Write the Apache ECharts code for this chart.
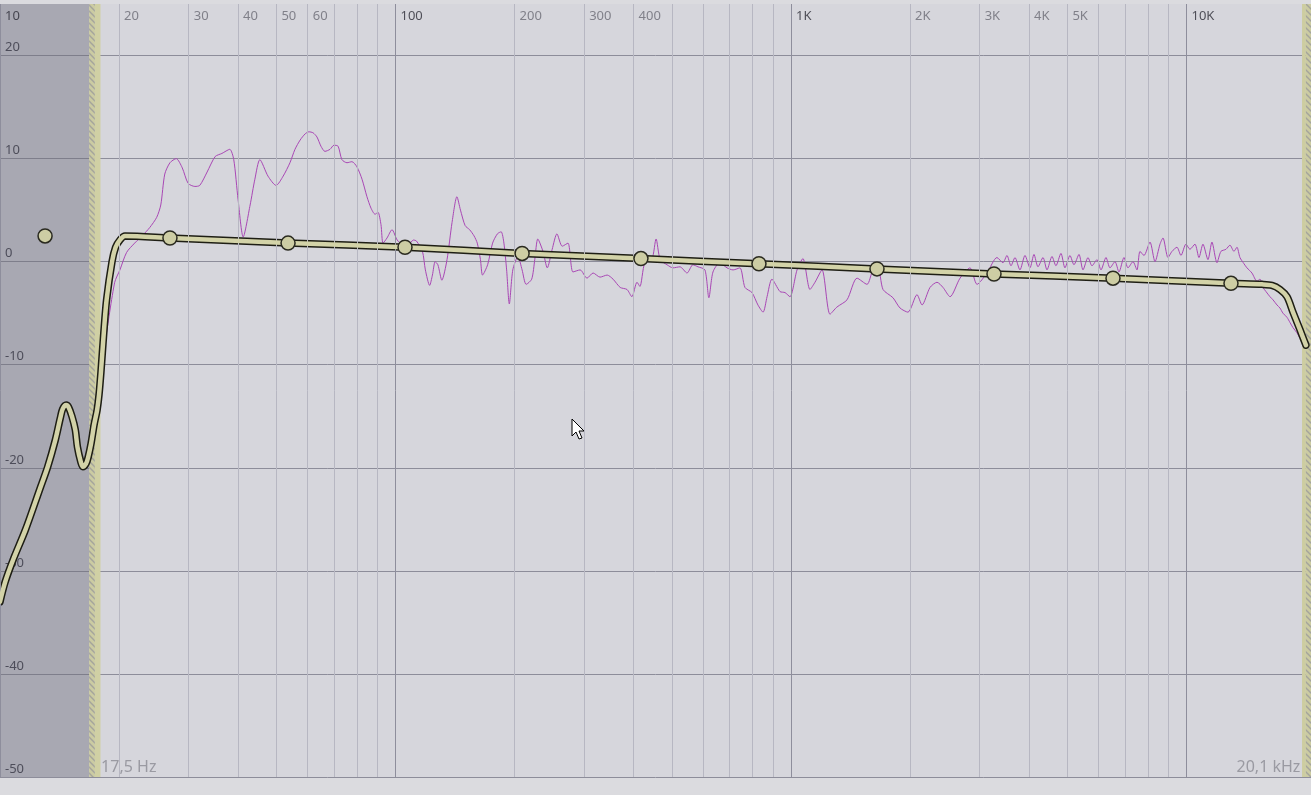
<!DOCTYPE html>
<html><head><meta charset="utf-8">
<script src="https://cdn.jsdelivr.net/npm/echarts@6/dist/echarts.min.js"></script>
<style>html,body{margin:0;padding:0;background:#dbdbdf;overflow:hidden}#c{width:1311px;height:795px}</style>
</head><body><div id="c"></div>
<script>
// ---- data ----
const gridHz = [10,20,30,40,50,60,70,80,90,100,200,300,400,500,600,700,800,900,1000,2000,3000,4000,5000,6000,7000,8000,9000,10000];
const decadeHz = [10,100,1000,10000];
const xLabelHz = [10,20,30,40,50,60,100,200,300,400,1000,2000,3000,4000,5000,10000];
const xLabelText = ['10','20','30','40','50','60','100','200','300','400','1K','2K','3K','4K','5K','10K'];
const yLabelDb = [20,10,0,-10,-20,-30,-40,-50];
const lowCutHz = 17.5;
const highCutHz = 20100;

const eqFreqHz = [10.0,10.3,10.8,11.6,12.6,13.2,13.8,14.2,14.4,14.7,14.9,15.2,15.5,15.7,16.0,16.2,16.5,16.7,17.0,17.3,17.6,17.8,18.0,18.3,18.6,19.2,19.6,20.1,20.7,
  26.9,53.5,105.7,209,417.5,830,1650,3261,6520,12960,15520,16450,17237,17954,18593,19140,19590,20048];
const eqGainDb = [-33.0,-31.1,-28.9,-26.0,-22.1,-19.9,-17.3,-15.2,-14.3,-13.9,-14.1,-15.0,-16.3,-18.0,-19.4,-19.9,-19.6,-19.0,-17.6,-15.8,-14.4,-12.9,-10.7,-6.9,-3.7,0.0,1.4,2.1,2.5,
  2.3,1.8,1.4,0.8,0.3,-0.2,-0.7,-1.2,-1.6,-2.1,-2.2,-2.3,-2.7,-3.4,-4.9,-6.1,-7.1,-8.1];

const nodeFreqHz = [13.0,26.9,53.5,105.7,209,417.5,830,1650,3261,6520,12960];
const nodeGainDb = [2.5,2.3,1.8,1.4,0.8,0.3,-0.2,-0.7,-1.2,-1.6,-2.1];

const respFreqHz = [
18.6,19.5,20.1,20.9,21.9,23.0,23.9,24.9,25.5,26.1,
26.9,27.9,28.9,29.9,31.1,32.0,33.4,35.0,36.4,38.1,
39.0,40.0,41.2,42.9,44.1,45.4,47.6,49.9,52.0,54.1,
55.7,57.4,59.1,60.4,61.9,63.3,64.8,66.3,68.3,69.9,
71.6,73.2,75.4,77.6,79.9,82.3,84.7,86.7,88.8,90.3,
91.9,93.0,95.2,98.0,101,104,108,111,113,117,
119,122,124,126,128,131,135,139,143,146,
150,154,158,161,164,166,171,176,181,185,
188,191,194,198,204,209,214,221,225,229,
236,242,249,256,264,273,281,293,305,316,
329,343,355,370,385,396,408,415,427,445,
456,467,486,503,524,546,565,582,606,620,
635,661,689,714,743,765,797,825,850,870,
895,938,966,994,1036,1072,1117,1150,1198,1255,
1307,1386,1469,1557,1612,1660,1709,1811,1887,1976,
2083,2145,2247,2340,2423,2525,2676,2836,2954,3131,
3318,3436,3517,3600,3685,3793,3906,4021,4116,4213,
4338,4440,4571,4677,4816,4929,5075,5195,5349,5475,
5637,5770,5940,6080,6260,6407,6596,6751,6951,7115,
7325,7497,7629,7809,8087,8327,8572,8723,8981,9193,
9462,9685,9970,10205,10507,10755,11008,11334,11600,11943,
12224,12586,12882,13185,13418,13655,13977,14223,14642,15077,
15342,15613,15888,16262,16549,16938,17237,17541,17954,18271,
18593,19030,19364,19706,20048];
const respGainDb = [
-6.9,-2.0,-0.8,0.9,1.8,2.6,3.3,4.3,5.5,8.5,
9.6,10.0,9.1,7.6,7.3,7.4,8.7,10.2,10.5,10.9,
9.9,6.0,2.4,5.5,8.0,9.9,8.3,7.4,8.3,9.6,
10.9,11.8,12.4,12.6,12.5,12.1,11.2,10.7,10.9,11.3,
11.2,9.9,9.6,9.7,9.2,8.0,6.3,5.2,4.6,4.8,
3.6,1.8,2.3,3.1,2.1,1.7,1.7,2.1,2.0,1.0,
-0.8,-2.3,-1.3,0.0,-0.3,-1.8,0.2,3.8,6.3,5.0,
3.5,3.1,2.5,1.8,0.2,-1.3,-0.3,1.8,2.7,2.9,
1.8,-0.8,-4.1,-0.8,0.5,-0.8,-2.2,-1.7,0.2,2.2,
1.0,-0.6,1.2,2.7,1.5,1.8,-1.0,-0.8,-1.6,-1.1,
-1.5,-1.3,-1.7,-2.5,-2.7,-3.4,-2.0,-2.4,-0.1,0.2,
2.2,0.2,-0.3,-0.6,-0.5,-1.1,-0.3,-0.5,-0.8,-3.5,
-1.0,-0.1,-0.6,-0.8,-0.6,-2.5,-3.0,-4.2,-4.9,-3.4,
-1.7,-2.9,-3.0,-3.4,-0.8,0.3,-2.7,-2.0,-0.8,-5.1,
-4.4,-3.7,-1.6,-2.2,-0.8,-0.6,-2.7,-3.5,-4.5,-4.9,
-3.2,-4.2,-2.5,-2.0,-2.5,-3.4,-1.6,-0.6,-2.2,-1.1,
0.4,-0.1,0.6,-0.4,0.4,-0.8,0.6,-0.6,0.7,-0.5,
0.4,-0.8,0.5,-0.4,0.8,-0.6,0.6,-0.3,0.7,-0.8,
0.4,-0.4,0.2,-0.8,0.4,-0.6,0.0,-1.0,0.4,-0.6,
0.0,-0.8,1.0,0.6,1.9,0.0,1.7,2.3,0.4,1.0,
1.4,0.6,1.7,1.2,1.7,0.4,1.7,0.2,1.9,-0.1,
1.0,1.2,1.6,1.0,1.4,0.4,-0.2,-0.6,-1.1,-1.9,
-1.7,-2.5,-2.9,-3.4,-3.7,-4.2,-4.5,-5.0,-5.4,-5.9,
-6.4,-6.9,-7.4,-7.6,-8.2];

// ---- chart ----
const FONT = '"Noto Sans", "Open Sans", sans-serif';
function hatch() {
  const c = document.createElement('canvas');
  c.width = 6; c.height = 6;
  const g = c.getContext('2d');
  g.fillStyle = '#cbcba2'; g.fillRect(0, 0, 6, 6);
  g.strokeStyle = '#a4a49c'; g.lineWidth = 1.4;
  g.beginPath();
  g.moveTo(0, 0); g.lineTo(6, 6);
  g.moveTo(-3, 3); g.lineTo(3, 9);
  g.moveTo(3, -3); g.lineTo(9, 3);
  g.stroke();
  return c;
}
const hatchPattern = { image: hatch(), repeat: 'repeat' };

const zip = (a, b) => a.map((v, i) => [v, b[i]]);
const chart = echarts.init(document.getElementById('c'), null, { renderer: 'canvas' });

chart.setOption({
  animation: false,
  backgroundColor: '#dbdbdf',
  textStyle: { fontFamily: FONT },
  grid: { left: 0, right: 0, top: 4, bottom: 18, show: true, backgroundColor: '#d6d6dc', borderWidth: 0 },
  xAxis: {
    type: 'log', logBase: 10, min: 10, max: 20650,
    axisLine: { show: false }, axisTick: { show: false }, axisLabel: { show: false }, splitLine: { show: false }
  },
  yAxis: {
    type: 'value', min: -50, max: 25, interval: 10,
    axisLine: { show: false }, axisTick: { show: false }, axisLabel: { show: false },
    splitLine: { show: true, showMaxLine: false, lineStyle: { color: '#8d8d9a', width: 1 } }
  },
  series: [
    { // vertical grid + x tick labels
      type: 'scatter', z: 1, silent: true, symbolSize: 0,
      data: xLabelHz.map((f, i) => ({
        value: [f, 25],
        label: { color: decadeHz.includes(f) ? '#2c2c36' : '#6a6a74' },
        name: xLabelText[i]
      })),
      label: { show: true, position: 'right', distance: 5, offset: [0, 12], fontSize: 13, fontFamily: FONT, formatter: p => p.name },
      markLine: {
        silent: true, symbol: 'none', label: { show: false },
        data: gridHz.map(f => ({
          xAxis: f,
          lineStyle: { type: 'solid', width: 1, color: decadeHz.includes(f) ? '#8e8e9c' : '#b7b7c2' }
        }))
      }
    },
    { // filtered-out regions + y labels
      type: 'scatter', z: 2, silent: true, symbolSize: 0,
      data: yLabelDb.map(v => ({ value: [10, v], name: String(v) })),
      label: { show: true, position: 'right', distance: 5, offset: [0, -8], fontSize: 13, color: '#363644', fontFamily: FONT, formatter: p => p.name },
      markArea: {
        silent: true,
        data: [
          [{ xAxis: 10, itemStyle: { color: 'rgba(105,105,118,0.42)' } }, { xAxis: 16.8 }],
          [{ xAxis: 16.8, itemStyle: { color: hatchPattern } }, { xAxis: lowCutHz * 0.993 }],
          [{ xAxis: lowCutHz * 0.993, itemStyle: { color: '#d0d0a4' } }, { xAxis: 17.95 }],
          [{ xAxis: 19600, itemStyle: { color: '#cdcda0' } }, { xAxis: highCutHz * 0.997 }],
          [{ xAxis: highCutHz * 0.997, itemStyle: { color: hatchPattern } }, { xAxis: 20650 }]
        ]
      }
    },
    { // cut frequency texts
      type: 'scatter', z: 2, silent: true, symbolSize: 0,
      data: [
        { value: [lowCutHz, -50], name: String(lowCutHz).replace('.', ',') + ' Hz', label: { position: 'right', distance: 5 } },
        { value: [highCutHz, -50], name: String(highCutHz / 1000).replace('.', ',') + ' kHz', label: { position: 'left', distance: 6 } }
      ],
      label: { show: true, offset: [0, -10], fontSize: 16, color: '#8b8b94', fontFamily: FONT, formatter: p => p.name }
    },
    { // measured response
      type: 'line', z: 3, silent: true, symbol: 'none',
      data: zip(respFreqHz, respGainDb),
      lineStyle: { color: '#a947b5', width: 1 }, smooth: 0.25
    },
    { // eq outline
      type: 'line', z: 4, silent: true, symbol: 'none',
      data: zip(eqFreqHz, eqGainDb), smooth: 0.3,
      lineStyle: { color: '#1e1e14', width: 7.5, join: 'round', cap: 'round' }
    },
    { // eq fill
      type: 'line', z: 5, silent: true, symbol: 'none',
      data: zip(eqFreqHz, eqGainDb), smooth: 0.3,
      lineStyle: { color: '#d3d3a8', width: 4.5, join: 'round', cap: 'round' }
    },
    { // nodes
      type: 'scatter', z: 6, silent: true,
      data: zip(nodeFreqHz, nodeGainDb),
      symbol: 'circle', symbolSize: 14,
      itemStyle: { color: '#cdcda4', borderColor: '#2a2a20', borderWidth: 1.5, opacity: 1 }
    }
  ],
  graphic: [{
    type: 'polygon', z: 100,
    shape: { points: [[572,419],[572,436],[576,432],[579,439],[582,438],[579,431],[584,431]] },
    style: { fill: '#ffffff', stroke: '#000000', lineWidth: 1 }
  }]
});
</script></body></html>
